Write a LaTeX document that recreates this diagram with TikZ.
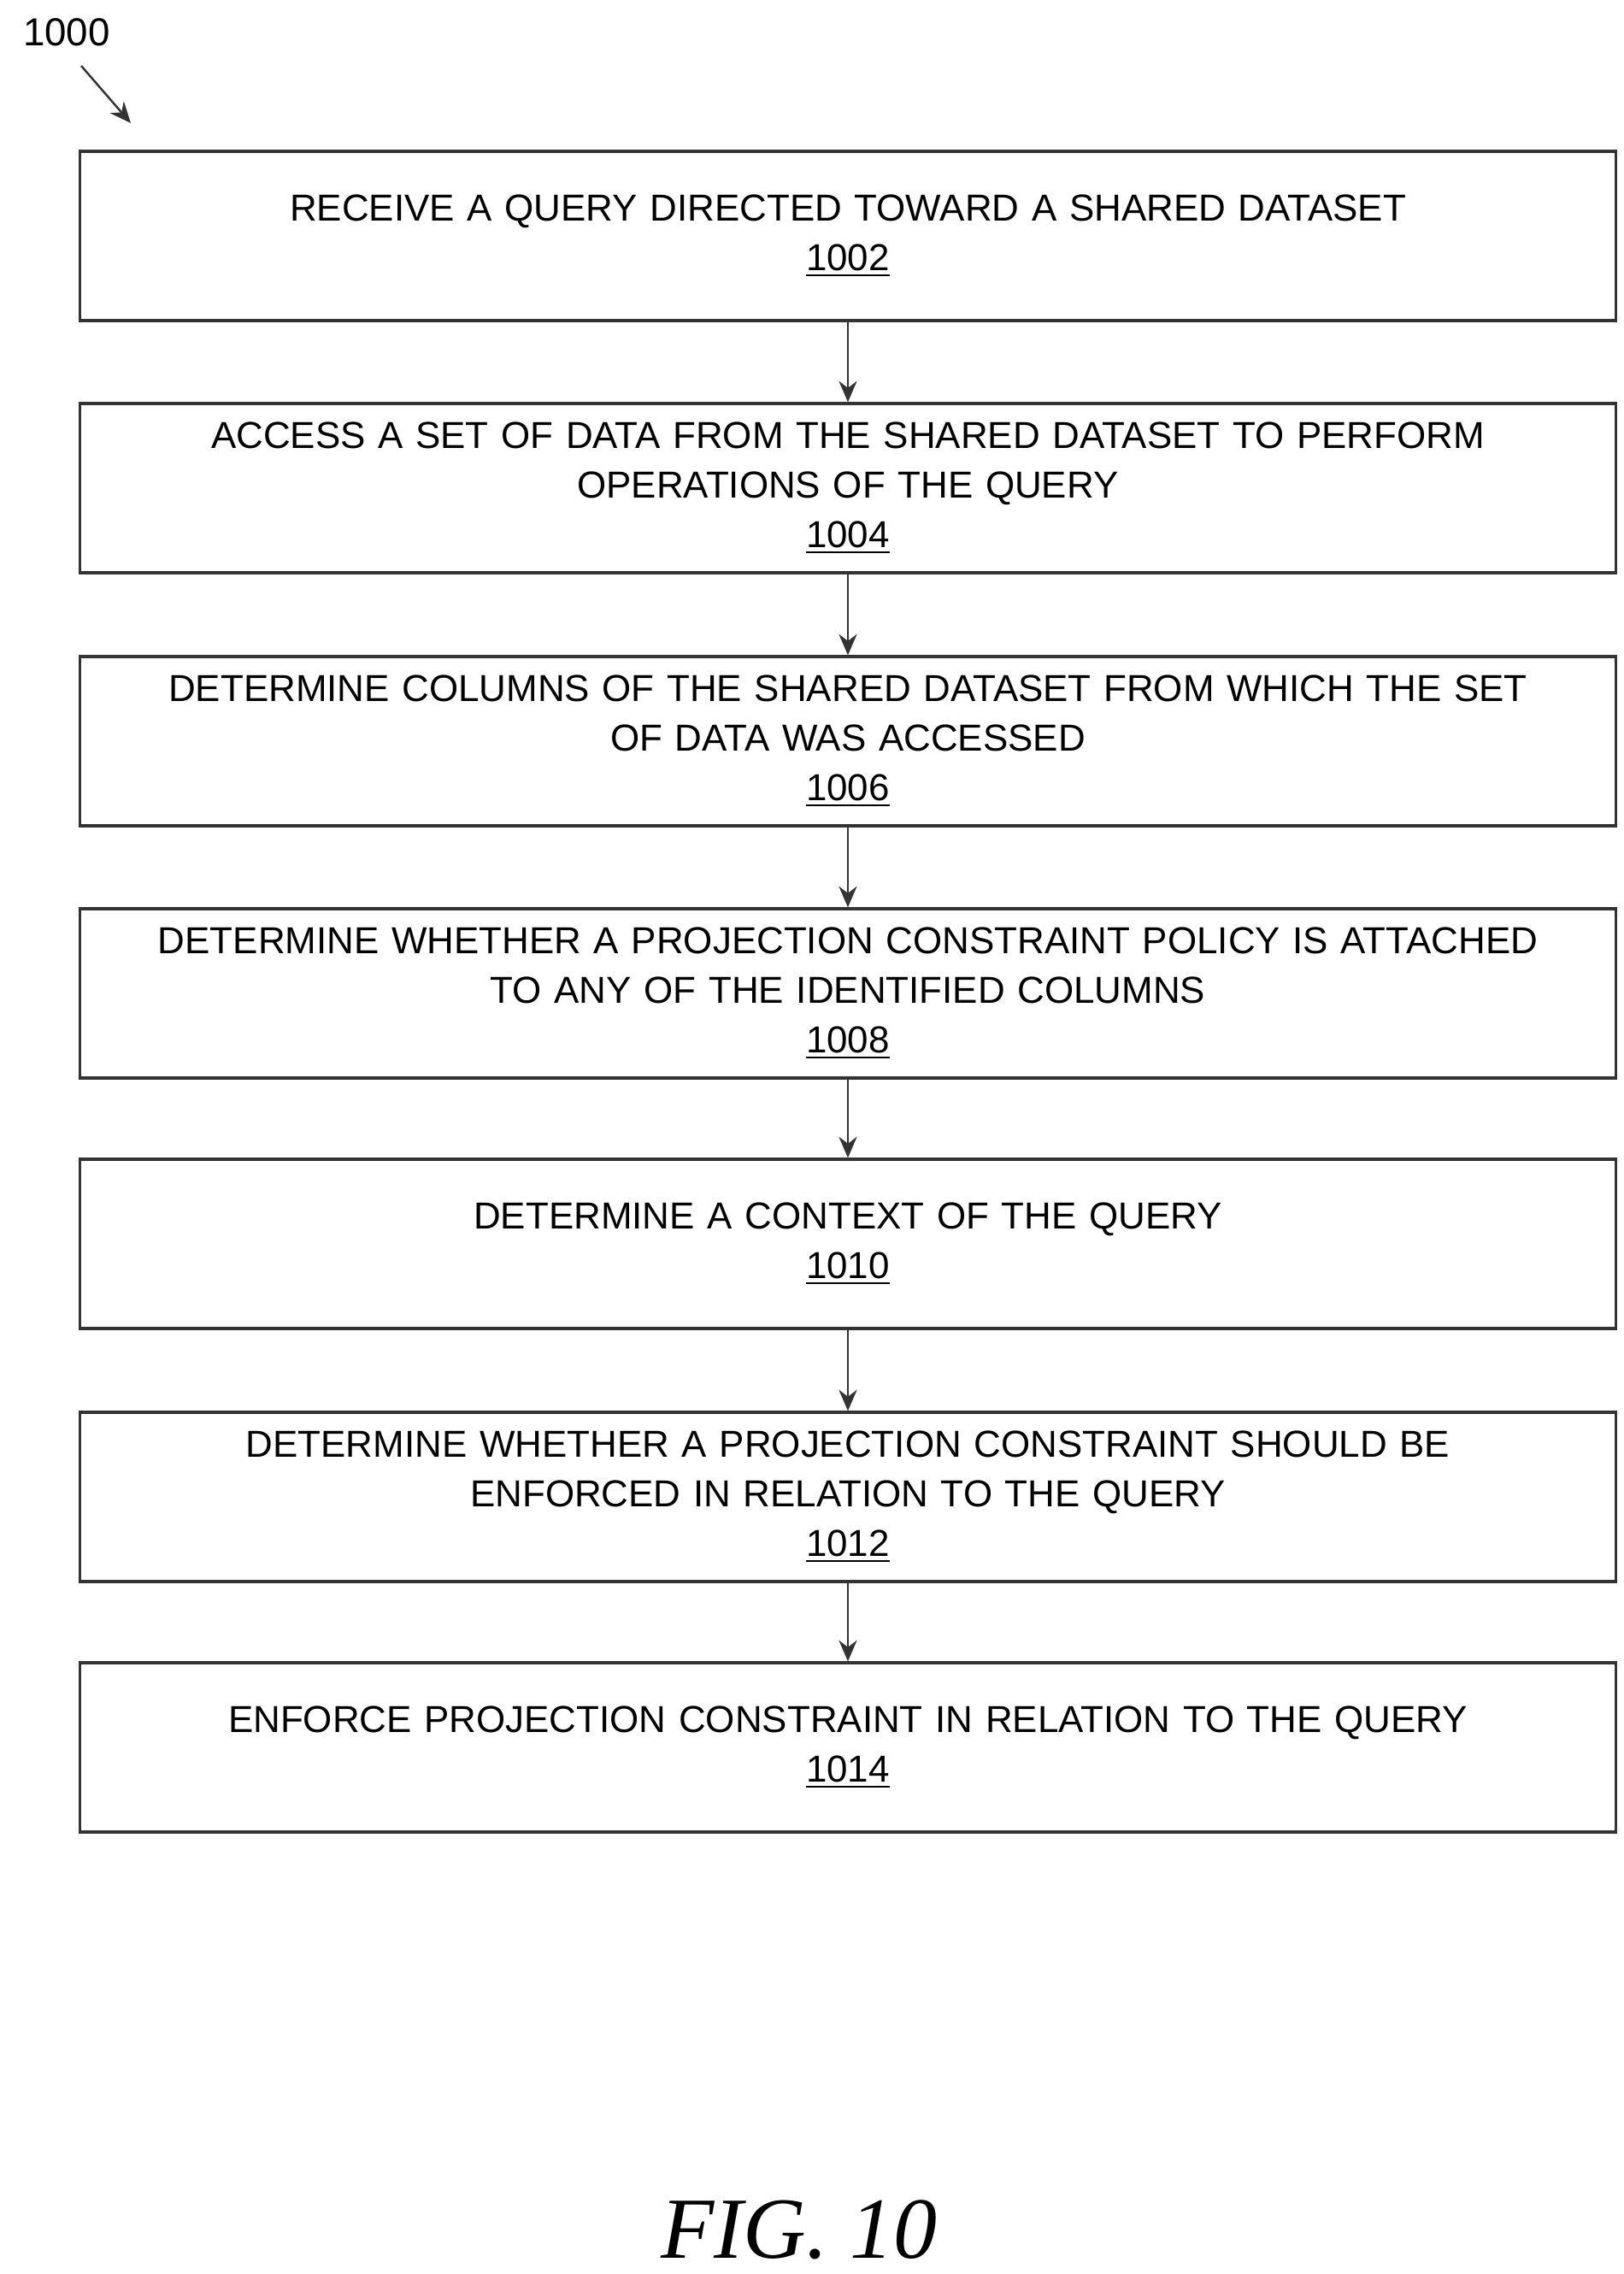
\documentclass[tikz,border=0pt]{standalone}
\usepackage{fontspec}
\setmainfont{Liberation Sans}
\newfontfamily\figfont{Liberation Serif}
\usetikzlibrary{arrows.meta}
\begin{document}
\begin{tikzpicture}[
  box/.style={draw=black!80, line width=0.9pt, minimum width=17.97cm, minimum height=1.98cm, text width=17.5cm, align=center, font=\fontsize{12.5}{16.5}\selectfont, inner sep=0pt},
  arr/.style={-{Stealth[length=7pt,width=6pt]}, line width=0.7pt, black!80}]
\useasboundingbox (0,0) rectangle (19,26.6);
\node (lbl) at (0.78,26.22) {\fontsize{13}{15}\selectfont 1000};
\coordinate (la) at (0.95,25.83);
\coordinate (lb) at (1.53,25.16);
\draw[arr] (la) -- (lb);
\node[box] (b1) at (9.92,23.84) {RECEIVE A QUERY DIRECTED TOWARD A SHARED DATASET\\\underline{1002}};
\node[box] (b2) at (9.92,20.89) {ACCESS A SET OF DATA FROM THE SHARED DATASET TO PERFORM\\OPERATIONS OF THE QUERY\\\underline{1004}};
\node[box] (b3) at (9.92,17.93) {DETERMINE COLUMNS OF THE SHARED DATASET FROM WHICH THE SET\\OF DATA WAS ACCESSED\\\underline{1006}};
\node[box] (b4) at (9.92,14.98) {DETERMINE WHETHER A PROJECTION CONSTRAINT POLICY IS ATTACHED\\TO ANY OF THE IDENTIFIED COLUMNS\\\underline{1008}};
\node[box] (b5) at (9.92,12.05) {DETERMINE A CONTEXT OF THE QUERY\\\underline{1010}};
\node[box] (b6) at (9.92,9.09) {DETERMINE WHETHER A PROJECTION CONSTRAINT SHOULD BE\\ENFORCED IN RELATION TO THE QUERY\\\underline{1012}};
\node[box] (b7) at (9.92,6.16) {ENFORCE PROJECTION CONSTRAINT IN RELATION TO THE QUERY\\\underline{1014}};
\foreach \a/\b in {b1/b2,b2/b3,b3/b4,b4/b5,b5/b6,b6/b7} \draw[arr] (\a) -- (\b);
\node (fig) at (9.35,0.52) {\figfont\itshape\fontsize{29}{32}\selectfont FIG. 10};
\end{tikzpicture}
\end{document}
